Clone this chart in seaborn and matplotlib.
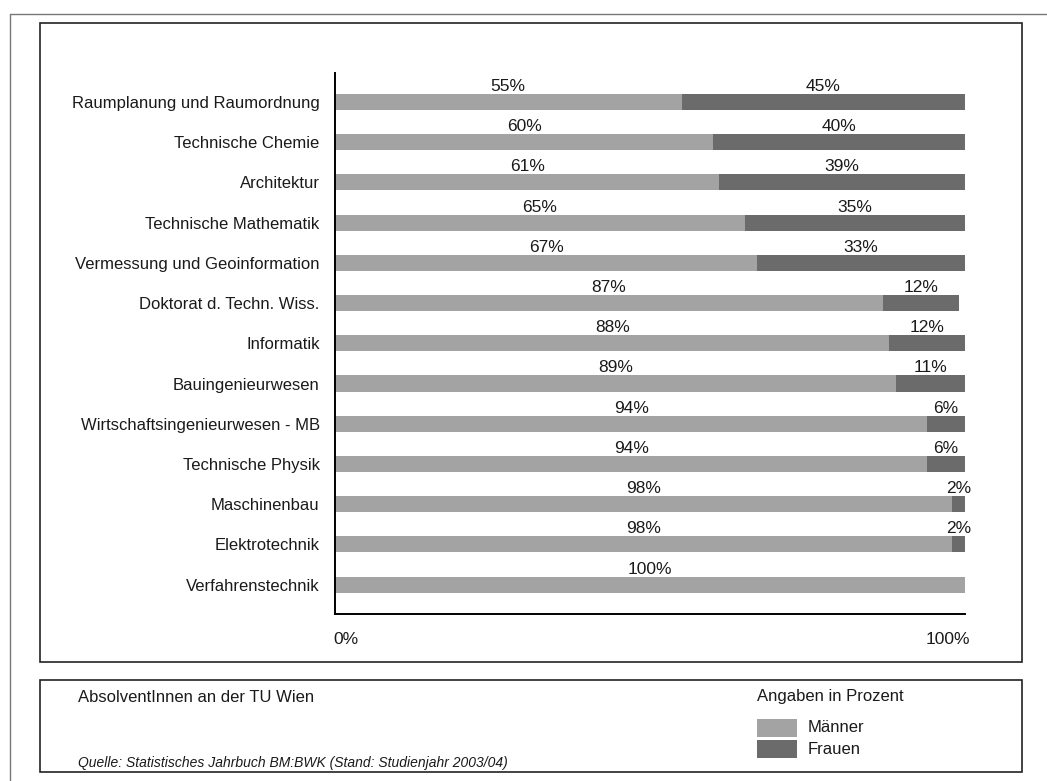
import matplotlib
matplotlib.use("Agg")
import matplotlib.pyplot as plt
from matplotlib.patches import Rectangle
from matplotlib.lines import Line2D
import pandas as pd
import seaborn as sns

categories = [
    "Raumplanung und Raumordnung",
    "Technische Chemie",
    "Architektur",
    "Technische Mathematik",
    "Vermessung und Geoinformation",
    "Doktorat d. Techn. Wiss.",
    "Informatik",
    "Bauingenieurwesen",
    "Wirtschaftsingenieurwesen - MB",
    "Technische Physik",
    "Maschinenbau",
    "Elektrotechnik",
    "Verfahrenstechnik",
]
maenner = [55, 60, 61, 65, 67, 87, 88, 89, 94, 94, 98, 98, 100]
frauen = [45, 40, 39, 35, 33, 12, 12, 11, 6, 6, 2, 2, 0]
x_ticks = [0, 100]
x_tick_labels = ["0%", "100%"]

C_M = "#a3a3a3"
C_F = "#6b6b6b"
TXT = "#1a1a1a"

sns.set_theme(style="white")
FONT = ["Liberation Sans Narrow", "Liberation Sans", "DejaVu Sans"]
plt.rcParams["font.family"] = FONT

df = pd.DataFrame({"Studium": categories, "Männer": maenner, "Frauen": frauen})
df["Gesamt"] = df["Männer"] + df["Frauen"]

fig = plt.figure(figsize=(10.47, 7.81), dpi=100)
W, H = 1047, 781


def fx(px):
    return px / W


def fy(py):
    return 1 - py / H


ax = fig.add_axes([fx(335), fy(614), fx(965) - fx(335), fy(73) - fy(614)])

# stacked bars: full total in dark, Männer share on top in light
sns.barplot(data=df, y="Studium", x="Gesamt", color=C_F, width=0.4,
            saturation=1, ax=ax, orient="h", linewidth=0)
sns.barplot(data=df, y="Studium", x="Männer", color=C_M, width=0.4,
            saturation=1, ax=ax, orient="h", linewidth=0)

ax.set_xlim(0, 100)
ax.set_ylim(len(categories) - 1 + 0.73, -0.72)
ax.set_xlabel("")
ax.set_ylabel("")
ax.set_xticks([])
ax.tick_params(axis="y", length=0, pad=11, labelsize=12, colors=TXT)
for side in ["top", "right"]:
    ax.spines[side].set_visible(False)
for side in ["left", "bottom"]:
    ax.spines[side].set_color("black")
    ax.spines[side].set_linewidth(1.4)

# value labels above each segment
for i, (m, f) in enumerate(zip(maenner, frauen)):
    ax.text(m / 2, i - 0.2, f"{m}%", ha="center", va="bottom",
            fontsize=12.5, color=TXT)
    if f > 0:
        ax.text(m + f / 2, i - 0.2, f"{f}%", ha="center", va="bottom",
                fontsize=12.5, color=TXT)

# x end labels
fig.text(fx(333), fy(640), x_tick_labels[0], ha="left", va="center",
         fontsize=12.5, color=TXT)
fig.text(fx(970), fy(640), x_tick_labels[1], ha="right", va="center",
         fontsize=12.5, color=TXT)

# outer frame (left and top edges)
fig.add_artist(Line2D([fx(10), fx(10)], [fy(14), 0], transform=fig.transFigure,
                      color="#777777", lw=1.0))
fig.add_artist(Line2D([fx(10), 1], [fy(14), fy(14)], transform=fig.transFigure,
                      color="#777777", lw=1.0))

# chart box and footer box
fig.add_artist(Rectangle((fx(40), fy(662)), fx(1022) - fx(40), fy(23) - fy(662),
                         transform=fig.transFigure, fill=False,
                         edgecolor="#222222", lw=1.2))
fig.add_artist(Rectangle((fx(40), fy(772)), fx(1022) - fx(40), fy(680) - fy(772),
                         transform=fig.transFigure, fill=False,
                         edgecolor="#222222", lw=1.2))

# footer texts
fig.text(fx(78), fy(697), "AbsolventInnen an der TU Wien", ha="left", va="center",
         fontsize=12, color=TXT)
fig.text(fx(78), fy(763), "Quelle: Statistisches Jahrbuch BM:BWK (Stand: Studienjahr 2003/04)",
         ha="left", va="center", fontsize=10, style="italic", color=TXT)
fig.text(fx(757), fy(697), "Angaben in Prozent", ha="left", va="center",
         fontsize=12, color=TXT)

# legend swatches
fig.add_artist(Rectangle((fx(757), fy(737)), fx(797) - fx(757), fy(719) - fy(737),
                         transform=fig.transFigure, facecolor=C_M, edgecolor="none"))
fig.add_artist(Rectangle((fx(757), fy(758)), fx(797) - fx(757), fy(740) - fy(758),
                         transform=fig.transFigure, facecolor=C_F, edgecolor="none"))
fig.text(fx(808), fy(728), "Männer", ha="left", va="center",
         fontsize=12, color=TXT)
fig.text(fx(808), fy(749), "Frauen", ha="left", va="center",
         fontsize=12, color=TXT)

fig.savefig("out.png", dpi=100, facecolor="white")
